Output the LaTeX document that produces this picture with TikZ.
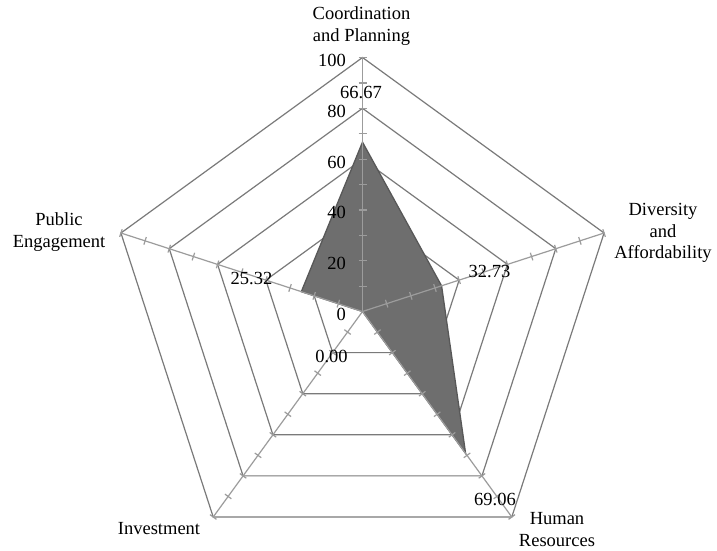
\documentclass[tikz,border=0pt]{standalone}
\usepackage{fontspec}
\setmainfont{Liberation Serif}
\usetikzlibrary{calc}
\definecolor{gridc}{HTML}{7A7A7A}
\definecolor{spokec}{HTML}{9C9C9C}
\definecolor{fillc}{HTML}{6E6E6E}
\definecolor{edgec}{HTML}{585858}
\begin{document}
\begin{tikzpicture}[x=1pt,y=1pt,
  lbl/.style={font=\fontsize{18.5}{21.5}\selectfont, inner sep=0pt, text=black},
  cat/.style={lbl, align=center},
  gridline/.style={draw=gridc, line width=1.2pt},
  spoke/.style={draw=spokec, line width=1.2pt}]
\useasboundingbox (0,0) rectangle (717,-551);
\fill[white] (0,0) rectangle (717,-551);
\coordinate (O) at (362.5,-311.5);
% grid pentagons
\foreach \r in {50.8,101.6,152.4,203.2,254}{
  \draw[gridline] ($(O)+(90:\r)$) -- ($(O)+(18:\r)$) -- ($(O)+(-54:\r)$) -- ($(O)+(-126:\r)$) -- ($(O)+(162:\r)$) -- cycle;
}
% data polygon
\coordinate (pA) at ($(O)+(90:169.34)$);
\coordinate (pB) at ($(O)+(18:83.13)$);
\coordinate (pC) at ($(O)+(-54:175.41)$);
\coordinate (pD) at (O);
\coordinate (pE) at ($(O)+(162:64.31)$);
\filldraw[fill=fillc, draw=edgec, line width=1.3pt] (pA) -- (pB) -- (pC) -- (pD) -- (pE) -- cycle;
% spokes with ticks
\foreach \a/\n in {90/A,18/B,-54/C,-126/D,162/E}{
  \coordinate (\n) at ($(O)+(\a:254)$);
  \draw[spoke] (O) -- (\n);
  \foreach \k in {1,...,10}{
    \draw[spoke] ($(O)+(\a:\k*25.4)+(\a+90:4)$) -- ($(O)+(\a:\k*25.4)+(\a-90:4)$);
  }
}
% axis value labels
\foreach \v in {0,20,40,60,80,100}{
  \node[lbl, anchor=east] at (346,{-311.5+2.54*\v-3}) {\v};
}
% data labels
\node[lbl] (l1) at (361,-93) {66.67};
\node[lbl] (l2) at (489.5,-272) {32.73};
\node[lbl] (l3) at (495,-499) {69.06};
\node[lbl] (l4) at (331.5,-356) {0.00};
\node[lbl] (l5) at (251.5,-279) {25.32};
% category labels
\node[cat] (cA) at (361.5,-26) {Coordination\\and Planning};
\node[cat] (cB) at (663,-233) {Diversity\\and\\Affordability};
\node[cat] (cC) at (557,-529.5) {Human\\Resources};
\node[cat] (cD) at (159,-529) {Investment};
\node[cat] (cE) at (59,-232) {Public\\Engagement};
\end{tikzpicture}
\end{document}
